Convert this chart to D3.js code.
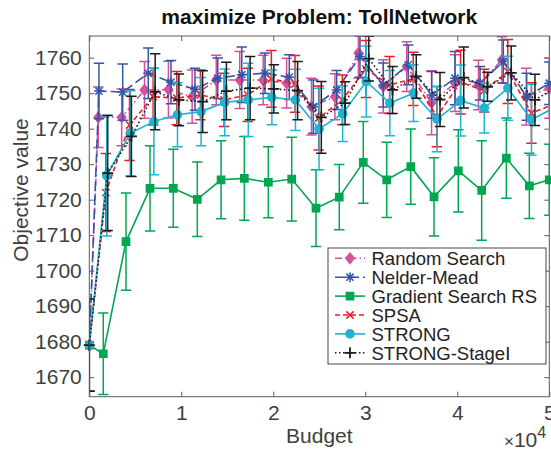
<!DOCTYPE html>
<html>
<head>
<meta charset="utf-8">
<script src="https://cdn.jsdelivr.net/npm/d3@7"></script>
<style>
  html, body { margin: 0; padding: 0; background: #fff; }
  svg { display: block; font-family: "Liberation Sans", Arial, Helvetica, sans-serif; }
</style>
</head>
<body>
<svg id="chart" width="551" height="449"></svg>
<script>
// ---- data -----------------------------------------------------------
const seriesNames = ["Random Search", "Nelder-Mead", "Gradient Search RS", "SPSA", "STRONG", "STRONG-StageI"];

const budgetRandom = [0, 980, 3520, 6000, 8600, 11180, 13800, 16350, 18900, 21450, 24150, 26700, 29250, 31950, 34500, 37200, 39750, 42300, 44850, 47500, 50000];
const meanRandom   = [1679, 1743.2, 1743.2, 1750.9, 1751.0, 1749.0, 1753.7, 1753.7, 1753.7, 1752.8, 1746.2, 1749.0, 1761.3, 1751.9, 1757.5, 1747.3, 1752.8, 1752.3, 1759.4, 1749.0, 1751.4];
const errRandom    = [13, 8.5, 8, 8, 8, 7.5, 7, 8, 7, 7, 8, 6.5, 7, 7.5, 7, 9, 8, 7, 6.5, 8, 8.5];

const budgetNM = [0, 1050, 3630, 6410, 8880, 11490, 13960, 16570, 19100, 21740, 24350, 26890, 29420, 31960, 34670, 37220, 39750, 42470, 45000, 47540, 50000];
const meanNM   = [1679, 1750.6, 1750.3, 1755.6, 1753.1, 1751.1, 1754.2, 1755.2, 1755.6, 1754.5, 1746.2, 1750.9, 1760.3, 1752.3, 1758.0, 1749.5, 1754.2, 1752.8, 1758.9, 1749.0, 1752.8];
const errNM    = [13, 7.8, 7.9, 7.1, 6.1, 5.9, 5.7, 7.8, 5.7, 6.3, 7.5, 5.5, 5.8, 6.2, 5.6, 6.6, 7.5, 4.7, 6.1, 6.6, 6];

const budgetGrad = [0, 1520, 3990, 6600, 9130, 11740, 14320, 16850, 19460, 22000, 24640, 27170, 29780, 32330, 34940, 37470, 40110, 42650, 45330, 47830, 50000];
const meanGrad   = [1679, 1676.6, 1708.2, 1723.2, 1723.2, 1720.1, 1725.6, 1726.0, 1724.9, 1725.8, 1717.6, 1720.7, 1730.5, 1725.6, 1729.3, 1720.8, 1728.1, 1722.6, 1731.7, 1723.9, 1725.6];
const errGrad    = [13, 11.5, 13.7, 12, 11, 10.5, 11, 11.8, 10, 11.8, 10.8, 9.2, 11.5, 10.6, 10.6, 11, 11.6, 14, 11.3, 9.2, 10];

const budgetSPSA = [0, 1800, 4370, 6940, 9510, 12080, 14650, 17220, 19790, 22360, 24930, 27500, 30070, 32640, 35210, 37780, 40350, 42920, 45490, 48060, 50630];
const meanSPSA   = [1679, 1722.0, 1741.0, 1749.0, 1748.6, 1749.5, 1748.1, 1749.5, 1754.0, 1752.6, 1743.0, 1748.1, 1756.8, 1752.3, 1754.0, 1743.4, 1753.1, 1750.7, 1756.1, 1744.4, 1747.0];
const errSPSA    = [13, 11, 10, 8, 7.5, 7, 7.5, 7.5, 8, 8, 9, 7, 8, 8, 7.5, 8.5, 9, 6, 9, 8.5, 8];

const budgetStrong = [0, 1890, 4455, 7020, 9585, 12150, 14715, 17280, 19845, 22410, 24975, 27540, 30105, 32670, 35235, 37800, 40365, 42930, 45495, 48060, 50625];
const meanStrong   = [1679, 1726.8, 1738.7, 1742.0, 1743.9, 1744.8, 1747.4, 1748.1, 1748.8, 1748.1, 1739.9, 1744.2, 1753.3, 1747.2, 1750.0, 1742.7, 1747.9, 1745.8, 1751.4, 1742.5, 1746.0];
const errStrong    = [13, 17, 12, 15, 9, 9.6, 9.4, 10.3, 7.7, 8.6, 11.5, 7.8, 10, 9.2, 8, 9.2, 10, 7, 9, 10, 9];

const budgetStageI = [0, 2000, 4580, 7160, 9740, 12320, 14900, 17480, 20060, 22640, 25220, 27800, 30380, 32960, 35540, 38120, 40700, 43280, 45860, 48440, 51020];
const meanStageI   = [1679, 1727.5, 1737.8, 1750.4, 1748.1, 1747.6, 1750.6, 1751.4, 1751.2, 1750.7, 1743.2, 1747.2, 1759.7, 1750.9, 1754.7, 1748.2, 1754.4, 1751.8, 1755.7, 1748.1, 1752.0];
const errStageI    = [13, 16.2, 11.3, 10.7, 7.3, 8.7, 8.1, 8.9, 6.8, 8.2, 10.1, 6, 6.3, 6.6, 6.1, 7.6, 8.6, 4.1, 7.6, 7.2, 7];

const yTickValues = [1670, 1680, 1690, 1700, 1710, 1720, 1730, 1740, 1750, 1760];
const xTickValues = [0, 10000, 20000, 30000, 40000, 50000];
const xTickLabels = ["0", "1", "2", "3", "4", "5"];

// ---- layout ---------------------------------------------------------
const plot = { left: 89.3, right: 549.3, top: 36, bottom: 396.7 };
const svg = d3.select("#chart");

const x = d3.scaleLinear().domain([0, 50000]).range([plot.left, plot.right]);
const y = d3.scaleLinear().domain([1664.5, 1766.1]).range([plot.bottom, plot.top]);

const axisColor = "#5c5c5c";
const textColor = "#404040";

svg.append("defs").append("clipPath").attr("id", "plotClip")
  .append("rect")
  .attr("x", plot.left).attr("y", plot.top)
  .attr("width", plot.right - plot.left).attr("height", plot.bottom - plot.top);

// ---- axes -----------------------------------------------------------
function styleAxis(g, showLabels) {
  g.select(".domain").remove();
  g.selectAll(".tick line").attr("stroke", axisColor).attr("stroke-width", 1);
  if (showLabels) {
    g.selectAll(".tick text").attr("fill", textColor).style("font-size", "21px");
  } else {
    g.selectAll(".tick text").remove();
  }
}

svg.append("g").attr("transform", `translate(0,${plot.bottom})`)
  .call(d3.axisBottom(x).tickValues(xTickValues).tickFormat((d, i) => xTickLabels[i])
    .tickSizeInner(-5).tickSizeOuter(0).tickPadding(8))
  .call(g => styleAxis(g, true))
  .call(g => g.selectAll(".tick text").attr("dy", "0.71em"));

svg.append("g").attr("transform", `translate(0,${plot.top})`)
  .call(d3.axisTop(x).tickValues(xTickValues).tickSizeInner(-5).tickSizeOuter(0))
  .call(g => styleAxis(g, false));

svg.append("g").attr("transform", `translate(${plot.left},0)`)
  .call(d3.axisLeft(y).tickValues(yTickValues).tickFormat(d3.format("d"))
    .tickSizeInner(-5).tickSizeOuter(0).tickPadding(7.5))
  .call(g => styleAxis(g, true));

svg.append("g").attr("transform", `translate(${plot.right},0)`)
  .call(d3.axisRight(y).tickValues(yTickValues).tickSizeInner(-5).tickSizeOuter(0))
  .call(g => styleAxis(g, false));

// ---- markers --------------------------------------------------------
function markerPath(type) {
  switch (type) {
    case "diamond": return "M0,-5.2L4.2,0L0,5.2L-4.2,0Z";
    case "star": {
      const h = 5, d = 3.6;
      return `M${-h},0H${h}M0,${-h}V${h}M${-d},${-d}L${d},${d}M${-d},${d}L${d},${-d}`;
    }
    case "square": return "M-3.6,-3.6H3.6V3.6H-3.6Z";
    case "x": return "M-3.6,-3.6L3.6,3.6M-3.6,3.6L3.6,-3.6";
    case "circle": return d3.symbol(d3.symbolCircle, 52)();
    case "plus": return "M-5.5,0H5.5M0,-5.5V5.5";
  }
}

const series = [
  { name: seriesNames[0], budget: budgetRandom, mean: meanRandom, err: errRandom, color: "#d6509c", dash: "7,3,1.5,3", marker: "diamond", filled: true },
  { name: seriesNames[1], budget: budgetNM, mean: meanNM, err: errNM, color: "#3257a8", dash: "10,4", marker: "star", filled: false },
  { name: seriesNames[2], budget: budgetGrad, mean: meanGrad, err: errGrad, color: "#00a650", dash: null, marker: "square", filled: true },
  { name: seriesNames[3], budget: budgetSPSA, mean: meanSPSA, err: errSPSA, color: "#ec1c24", dash: "5,3", marker: "x", filled: false },
  { name: seriesNames[4], budget: budgetStrong, mean: meanStrong, err: errStrong, color: "#1eb4d2", dash: null, marker: "circle", filled: true },
  { name: seriesNames[5], budget: budgetStageI, mean: meanStageI, err: errStageI, color: "#1c1c1c", dash: "1.5,2.5", marker: "plus", filled: false }
];

function drawMarker(sel, s) {
  sel.append("path")
    .attr("d", markerPath(s.marker))
    .attr("fill", s.filled ? s.color : "none")
    .attr("stroke", s.color)
    .attr("stroke-width", s.marker === "plus" ? 1.8 : 1.5);
}

const cap = 5.2;
const line = d3.line().x(d => x(d.b)).y(d => y(d.m));

series.forEach(s => {
  const pts = s.budget.map((b, i) => ({ b, m: s.mean[i], e: s.err[i] }));
  const clipped = svg.append("g").attr("clip-path", "url(#plotClip)");

  // error bars
  const bars = clipped.append("g").attr("stroke", s.color).attr("stroke-width", 1.5).attr("fill", "none");
  pts.forEach(p => {
    const cx = x(p.b), y0 = y(p.m - p.e), y1 = y(p.m + p.e);
    bars.append("path").attr("d", `M${cx},${y0}V${y1}M${cx - cap},${y0}H${cx + cap}M${cx - cap},${y1}H${cx + cap}`);
  });

  // mean curve
  clipped.append("path").datum(pts)
    .attr("d", line)
    .attr("fill", "none")
    .attr("stroke", s.color)
    .attr("stroke-width", 1.6)
    .attr("stroke-dasharray", s.dash);

  // markers
  const mg = svg.append("g");
  pts.filter(p => p.b <= 50000).forEach(p => {
    drawMarker(mg.append("g").attr("transform", `translate(${x(p.b)},${y(p.m)})`), s);
  });
});

// frame
svg.append("rect")
  .attr("x", plot.left).attr("y", plot.top)
  .attr("width", plot.right - plot.left).attr("height", plot.bottom - plot.top)
  .attr("fill", "none").attr("stroke", axisColor).attr("stroke-width", 1);

// ---- labels ---------------------------------------------------------
svg.append("text")
  .attr("x", (plot.left + plot.right) / 2).attr("y", 24)
  .attr("text-anchor", "middle")
  .style("font-size", "21px").style("font-weight", "bold")
  .attr("fill", "#111")
  .text("maximize Problem: TollNetwork");

svg.append("text")
  .attr("transform", "translate(28,190) rotate(-90)")
  .attr("text-anchor", "middle")
  .style("font-size", "21px")
  .attr("fill", textColor)
  .text("Objective value");

svg.append("text")
  .attr("x", (plot.left + plot.right) / 2).attr("y", 443)
  .attr("text-anchor", "middle")
  .style("font-size", "21px")
  .attr("fill", textColor)
  .text("Budget");

const mult = svg.append("text")
  .attr("x", 504).attr("y", 447)
  .style("font-size", "21px")
  .attr("fill", textColor);
mult.append("tspan").style("font-size", "17px").text("\u00d7");
mult.append("tspan").text("10");
mult.append("tspan").attr("dy", -9).style("font-size", "16px").text("4");

// ---- legend ---------------------------------------------------------
const legend = svg.append("g");
legend.append("rect")
  .attr("x", 328).attr("y", 248).attr("width", 218).attr("height", 116)
  .attr("fill", "#fff").attr("stroke", "#333").attr("stroke-width", 0.9);

series.forEach((s, i) => {
  const cy = 258.3 + i * 18.9;
  const row = legend.append("g");
  row.append("line")
    .attr("x1", 335).attr("x2", 365).attr("y1", cy).attr("y2", cy)
    .attr("stroke", s.color).attr("stroke-width", 1.6)
    .attr("stroke-dasharray", s.dash);
  drawMarker(row.append("g").attr("transform", `translate(350,${cy})`), s);
  row.append("text")
    .attr("x", 371.5).attr("y", cy + 6.7)
    .style("font-size", "18.5px")
    .attr("fill", "#222")
    .text(s.name);
});
</script>
</body>
</html>
